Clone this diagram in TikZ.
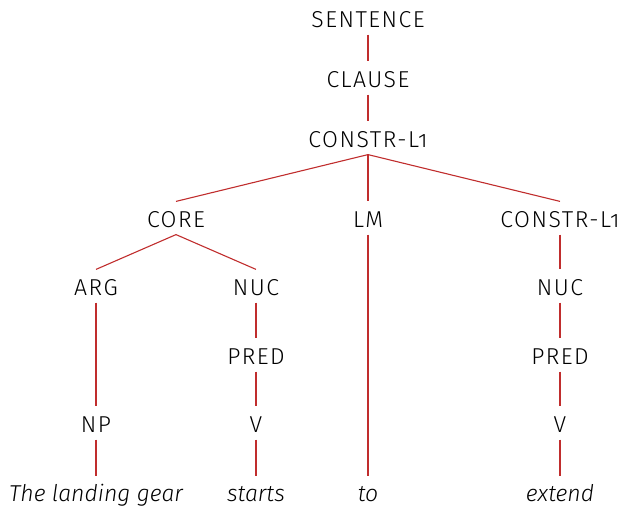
\documentclass[tikz,border=0pt]{standalone}
\usepackage{fontspec}
\setmainfont{Fira Sans Light}[ItalicFont={Fira Sans Light Italic}, Numbers=OldStyle]
\usepackage{tikz}
\usetikzlibrary{positioning}
\definecolor{branch}{RGB}{192,45,45}
\tikzset{cat/.style={inner xsep=0pt,inner ysep=3.5pt,text height=9.2pt,text depth=0pt,font=\fontsize{11.5}{13}\selectfont\addfontfeatures{LetterSpace=6.5}},
	 word/.style={cat,font=\fontsize{11.5}{13}\selectfont\itshape},
	 branch/.style={draw=branch,line width=0.55pt},
	 node distance = 30pt
	 }

\begin{document}
\begin{tikzpicture}[on grid]
	\useasboundingbox (0,0) rectangle (309pt,-254pt);
	\node[cat] (s) at (184pt,-9pt) {SENTENCE};
	\node[cat] (cl) [below=of s] {CLAUSE};
	\node[cat] (c1) [below=of cl] {CONSTR-L1};

	\node[cat] (core) [below left=40pt and 96pt of c1] {CORE};
	\node[cat] (lm) [below=40pt of c1] {LM};
	\node[cat] (c2) [below right=40pt and 96pt of c1] {CONSTR-L1};

	\node[cat] (arg) [below left=34pt and 40pt of core] {ARG};
	\node[cat] (nuc) [below right=34pt and 40pt of core] {NUC};
	\node[cat] (nuc2) [below=34pt of c2] {NUC};
	\node[cat] (pred) [below=34.5pt of nuc] {PRED};
	\node[cat] (pred2) [below=34.5pt of nuc2] {PRED};
	\node[cat] (np) [below=68.5pt of arg] {NP};
	\node[cat] (v) [below=34pt of pred] {V};
	\node[cat] (v2) [below=34pt of pred2] {V};

	\node[word] (w1) [below=34.75pt of np] {The landing gear};
	\node[word] (w2) [below=34.75pt of v] {starts};
	\node[word] (w3) [below=137.25pt of lm] {to};
	\node[word] (w4) [below=34.75pt of v2] {extend};

	\draw[branch] (s.south) -- (cl.north); \draw[branch] (cl.south) -- (c1.north);
	\draw[branch] (c1.south) -- (core.north); \draw[branch] (c1.south) -- (lm.north);
	\draw[branch] (c1.south) -- (c2.north);
	\draw[branch] (core.south) -- (arg.north); \draw[branch] (core.south) -- (nuc.north);
	\draw[branch] (arg.south) -- (np.north); \draw[branch] (np.south) -- (w1.north);
	\draw[branch] (nuc.south) -- (pred.north) ; \draw[branch] (pred.south) -- (v.north);
	\draw[branch] (v.south) -- (w2.north);
	\draw[branch] (lm.south) -- (w3.north);
	\draw[branch] (c2.south) -- (nuc2.north); \draw[branch] (nuc2.south) -- (pred2.north);
	\draw[branch] (pred2.south) -- (v2.north); \draw[branch] (v2.south) -- (w4.north);
\end{tikzpicture}
\end{document}
